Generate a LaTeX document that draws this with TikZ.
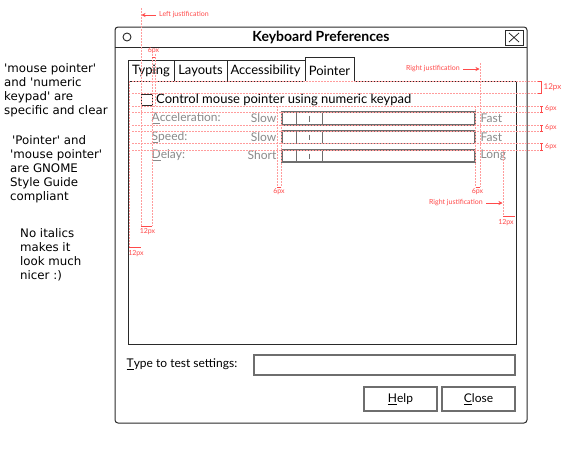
\documentclass[tikz,border=0pt]{standalone}
\usepackage{fontspec}
\setmainfont{Lato}
\newfontfamily\dejavu{DejaVu Sans}
\usetikzlibrary{arrows.meta}
\definecolor{win}{HTML}{2A2A2A}
\definecolor{wid}{HTML}{6E6E6E}
\definecolor{lbl}{HTML}{8A8A8A}
\definecolor{ann}{HTML}{FF4A4A}
\definecolor{gline}{HTML}{FF9C9C}
\begin{document}
\begin{tikzpicture}[x=1pt,y=-1pt,
  frame/.style={draw=win, line width=1pt},
  widget/.style={draw=wid, line width=1.2pt},
  guide/.style={draw=gline, line width=0.5pt, dash pattern=on 2pt off 1pt},
  annline/.style={draw=ann, line width=0.6pt},
  annarrow/.style={draw=ann, line width=0.9pt, -{Stealth[length=4pt,width=4pt]}},
  annot/.style={text=ann, font=\fontsize{7}{8}\selectfont, inner sep=0pt},
  note/.style={font=\dejavu\fontsize{11.8}{14}\selectfont, align=left, anchor=north west, inner sep=0pt},
  uitext/.style={font=\fontsize{13}{15}\selectfont, inner sep=0pt, text=black},
  lbltext/.style={font=\fontsize{12}{14}\selectfont, inner sep=0pt, text=lbl},
  btntext/.style={font=\fontsize{12}{14}\selectfont, inner sep=0pt, text=black}
]
\useasboundingbox (0,0) rectangle (561,450);

% ---------- side notes ----------
\node[note] (n1) at (4,63) {'mouse pointer'\\and 'numeric\\keypad' are\\specific and clear};
\node[note] (n2) at (10,135) {\hspace{2pt}'Pointer' and\\'mouse pointer'\\are GNOME\\Style Guide\\compliant};
\node[note] (n3) at (20,228) {No italics\\makes it\\look much\\nicer :)};

% ---------- window ----------
\draw[frame, fill=white, rounded corners=3pt] (115,27) rectangle (527,423);
\draw[frame] (115,47) -- (527,47);
\draw[win, line width=0.9pt] (127,37) circle (4);
\node[uitext, font=\bfseries\fontsize{14}{16}\selectfont] (title) at (321,37) {Keyboard Preferences};
\draw[win, line width=0.9pt] (505,30) rectangle (523,45);
\draw[win, line width=0.8pt] (509,33) -- (519,42) (519,33) -- (509,42);

% ---------- tabs & notebook ----------
\draw[frame] (128,81) -- (128,60) -- (305,60);
\draw[frame] (174,60) -- (174,81);
\draw[frame] (227,60) -- (227,81);
\draw[frame] (305,81) -- (128,81) -- (128,344) -- (516,344) -- (516,81) -- (354,81);
\draw[frame] (305,81) -- (305,57) -- (354,57) -- (354,81);
\node[uitext] (tab1) at (151,71) {Typing};
\node[uitext] (tab2) at (200.5,71) {Layouts};
\node[uitext] (tab3) at (265.5,71) {Accessibility};
\node[uitext] (tab4) at (329.5,71) {Pointer};

% ---------- checkbox ----------
\draw[win, line width=0.9pt] (141,94) rectangle (152,105);
\node[uitext, anchor=west] (chk) at (156,100) {Control mouse pointer using numeric keypad};

% ---------- rows ----------
\node[lbltext, anchor=west] (l1) at (151.5,118) {\underline{A}cceleration:};
\node[lbltext, anchor=west] (l2) at (151.5,137) {\underline{S}peed:};
\node[lbltext, anchor=west] (l3) at (151.5,155.5) {\underline{D}elay:};
\node[lbltext, anchor=east] (s1) at (276.5,118) {Slow};
\node[lbltext, anchor=east] (s2) at (276.5,137) {Slow};
\node[lbltext, anchor=east] (s3) at (276.5,155.5) {Short};
\node[lbltext, anchor=west] (f1) at (480.5,118) {Fast};
\node[lbltext, anchor=west] (f2) at (480.5,137) {Fast};
\node[lbltext, anchor=west] (f3) at (480.5,155.5) {Long};
\foreach \ya/\yb in {112/125, 131/143.5, 150/162}{
  \draw[widget] (282,\ya) rectangle (475,\yb);
  \draw[wid, line width=0.8pt] (296,\ya) -- (296,\yb) (322,\ya) -- (322,\yb);
  \draw[wid, line width=0.8pt] (309,{\ya+3.5}) -- (309,{\yb-3.5});
}

% ---------- bottom ----------
\node[btntext, anchor=west] (tt) at (126.5,364.5) {\underline{T}ype to test settings:};
\draw[widget] (254,355) rectangle (515,375);
\draw[widget] (364,387) rectangle (437,411);
\draw[widget] (442,387) rectangle (515,411);
\node[btntext] (help) at (400.5,399.5) {\underline{H}elp};
\node[btntext] (close) at (478.5,399.5) {\underline{C}lose};

% ---------- red guides ----------
\foreach \y in {81.5,93,106,112,125,131,143.5,150}{
  \draw[guide] (132,\y) -- (541,\y);
}
\draw[guide] (141,8) -- (141,226);
\draw[guide] (129,81) -- (129,247);
\draw[guide] (152,54) -- (152,226);
\draw[guide] (155,54) -- (155,106);
\draw[guide] (277,106) -- (277,187);
\draw[guide] (281,112) -- (281,187);
\draw[guide] (475.5,106) -- (475.5,187);
\draw[guide] (480,63) -- (480,187);
\draw[guide] (503,150) -- (503,216);

% measures
\draw[annline] (538,81.5) -- (541.5,81.5) -- (541.5,93) -- (538,93);
\node[annot, anchor=west, font=\fontsize{8}{9}\selectfont] (m12a) at (543.5,87.5) {12px};
\foreach \ya/\yb/\n in {106/112/a, 125/131/b, 143.5/150/c}{
  \draw[annline] (540,\ya) -- (543,\ya) (541.5,\ya) -- (541.5,\yb) (540,\yb) -- (543,\yb);
  \node[annot, anchor=west] (m6\n) at (545,{(\ya+\yb)/2}) {6px};
}
\draw[annline] (152,57) -- (155,57);
\node[annot] (m6top) at (153.5,51) {6px};
\draw[annline] (141,226) -- (152,226);
\node[annot] (m12b) at (147.5,232) {12px};
\draw[annline] (129,247) -- (141,247);
\node[annot] (m12c) at (136,254) {12px};
\draw[annline] (277,187) -- (281,187);
\node[annot] (m6d) at (279,192) {6px};
\draw[annline] (475.5,187) -- (480,187);
\node[annot] (m6e) at (477.5,192) {6px};
\draw[annline] (503,216) -- (515,216);
\node[annot] (m12d) at (506,223) {12px};

% justification labels
\node[annot, anchor=west] (lj) at (159,15) {Left justification};
\coordinate (ljstart) at (156,15);
\coordinate (ljend) at (141.5,15);
\draw[annarrow] (ljstart) -- (ljend);
\node[annot, anchor=east] (rj1) at (460,69) {Right justification};
\coordinate (rj1start) at (463,69);
\coordinate (rj1end) at (479.5,69);
\draw[annarrow] (rj1start) -- (rj1end);
\node[annot, anchor=east] (rj2) at (483,203) {Right justification};
\coordinate (rj2start) at (486,203);
\coordinate (rj2end) at (502.5,203);
\draw[annarrow] (rj2start) -- (rj2end);
\end{tikzpicture}
\end{document}
